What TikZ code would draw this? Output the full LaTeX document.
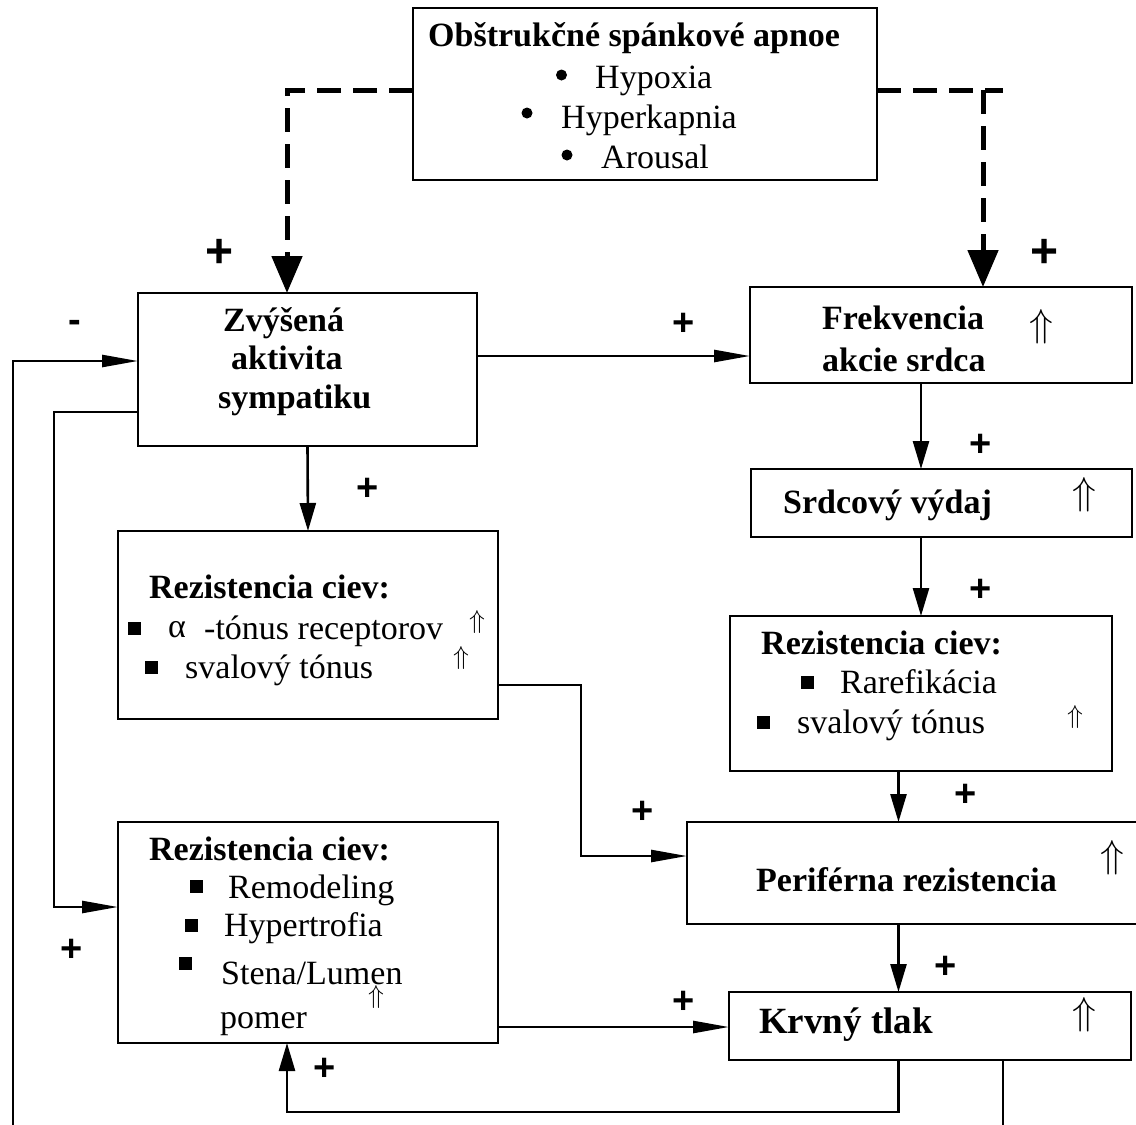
\documentclass[tikz,border=0pt]{standalone}
\usepackage{fix-cm}
\usepackage{fontspec}
\setmainfont{Liberation Serif}
\newfontfamily\plusfont{Liberation Sans}
\usetikzlibrary{arrows.meta}
\newcommand\fsz[1]{\fontsize{#1}{#1}\selectfont}
\newcommand\sqb[2]{\fill (#1-6.5,#2-6.5) rectangle ++(13,13);}
\begin{document}
\begin{tikzpicture}[x=1pt,y=-1pt,
  box/.style={draw=black, line width=1.8pt, inner sep=0pt, outer sep=0pt},
  tx/.style={inner sep=0pt, anchor=west, font=\fsz{34}, text height=23pt, text depth=0pt},
  tb/.style={tx, font=\fsz{34}\bfseries},
  pl/.style={inner sep=0pt, font=\plusfont\bfseries\fsz{38}},
  plbig/.style={inner sep=0pt, font=\plusfont\bfseries\fsz{48}},
  upb/.style={inner sep=0pt, font=\fsz{39}},
  ups/.style={inner sep=0pt, font=\fsz{26}},
  ln/.style={line width=2.6pt},
  varr/.style={ln, -{Triangle[length=28pt,width=16pt]}},
  harr/.style={ln, -{Triangle[length=36pt,width=12pt]}},
  dsh/.style={line width=5pt, dash pattern=on 24pt off 12pt},
  dtip/.style={-{Triangle[length=37pt,width=30pt]}}
]
\useasboundingbox (0,0) rectangle (1136,1125);
\clip (0,0) rectangle (1136,1125);

% boxes
\node[box, line width=2.6pt, minimum width=464pt, minimum height=172pt] (osa) at (645,94) {};
\node[box, minimum width=339pt, minimum height=153pt] (sym) at (307.5,369.5) {};
\node[box, minimum width=382pt, minimum height=96pt] (frek) at (941,335) {};
\node[box, minimum width=381pt, minimum height=68pt] (srd) at (941.5,503) {};
\node[box, minimum width=382pt, minimum height=155pt] (rezR) at (921,693.5) {};
\node[box, minimum width=380pt, minimum height=188pt] (rezA) at (308,625) {};
\node[box, minimum width=380pt, minimum height=221pt] (rezB) at (308,932.5) {};
\node[box, minimum width=458pt, minimum height=102pt] (per) at (916,873) {};
\node[box, minimum width=402pt, minimum height=68pt] (krv) at (930,1026) {};

% top box text
\node[tb] (osaT) at (428,35) {Obštrukčné spánkové apnoe};
\node[tx] (osa1) at (595,77) {Hypoxia};
\node[tx] (osa2) at (561,117) {Hyperkapnia};
\node[tx] (osa3) at (601,157) {Arousal};
\fill (561.5,75) circle (5.5pt);
\fill (527,113) circle (5.5pt);
\fill (567,155) circle (5.5pt);

% sympatikus
\node[tb] (sym1) at (223,320) {Zvýšená};
\node[tb] (sym2) at (231,358) {aktivita};
\node[tb] (sym3) at (218,397) {sympatiku};

% frekvencia
\node[tb] (fr1) at (822,318) {Frekvencia};
\node[tb] (fr2) at (822,360) {akcie srdca};
\node[upb] (frU) at (1041,327) {$\Uparrow$};

% srdcovy vydaj
\node[tb] (sv) at (783,502) {Srdcový výdaj};
\node[upb] (svU) at (1084,495) {$\Uparrow$};

% rezistencia right
\node[tb] (rr0) at (761,643) {Rezistencia ciev:};
\sqb{807}{682}
\node[tx] (rr1) at (840,682) {Rarefikácia};
\sqb{763}{722}
\node[tx] (rr2) at (797,722) {svalový tónus};
\node[ups] (rrU) at (1075,717) {$\Uparrow$};

% periferna
\node[tb] (pr) at (756,880) {Periférna rezistencia};
\node[upb] (prU) at (1112,858) {$\Uparrow$};

% krvny tlak
\node[tx, font=\fsz{37}\bfseries] (kt) at (759,1022) {Krvný tlak};
\node[upb] (ktU) at (1084,1015) {$\Uparrow$};

% rezistencia A
\node[tb] (ra0) at (149,587) {Rezistencia ciev:};
\sqb{134}{628}
\node[tx] (raA) at (168,626) {α};
\node[tx] (ra1) at (204,628) {-tónus receptorov};
\node[ups] (raU1) at (477,622) {$\Uparrow$};
\sqb{151}{667}
\node[tx] (ra2) at (185,667) {svalový tónus};
\node[ups] (raU2) at (461,658) {$\Uparrow$};

% rezistencia B
\node[tb] (rb0) at (149,849) {Rezistencia ciev:};
\sqb{196}{886}
\node[tx] (rb1) at (228,887) {Remodeling};
\sqb{191}{925}
\node[tx] (rb2) at (224,925) {Hypertrofia};
\sqb{185}{963}
\node[tx] (rb3) at (221,973) {Stena/Lumen};
\node[tx] (rb4) at (220,1017) {pomer};
\node[ups] (rbU) at (376,997) {$\Uparrow$};

% coordinates
\coordinate (dl) at (287,90);
\coordinate (dr) at (1003,90);
\coordinate (dj) at (983,90);
\coordinate (h1) at (0,356);
\coordinate (v1) at (921,0);
\coordinate (v2) at (898.5,0);
\coordinate (h2) at (0,685);
\coordinate (j1) at (581,856);
\coordinate (h3) at (0,1027);
\coordinate (j2) at (287,1112);
\coordinate (v3) at (1003,0);
\coordinate (bL) at (13,1130);
\coordinate (bR) at (1003,1130);
\coordinate (h4) at (0,361);
\coordinate (j3) at (54,412);
\coordinate (j4) at (54,907);

% connectors
\draw[dsh, dtip] (osa.west |- dl) -| (sym.north -| dl);
\draw[dsh] (osa.east |- dl) -- (dr);
\draw[dsh, dtip] (dj) -- (frek.north -| dj);
\draw[harr] (sym.east |- h1) -- (frek.west |- h1);
\draw[varr] (frek.south -| v1) -- (srd.north -| v1);
\draw[varr] (srd.south -| v1) -- (rezR.north -| v1);
\draw[varr] (rezR.south -| v2) -- (per.north -| v2);
\draw[varr] (per.south -| v2) -- (krv.north -| v2);
\draw[varr] (sym.south) -- (rezA.north);
\draw[harr] (rezA.east |- h2) -| (j1) -- (per.west |- j1);
\draw[harr] (rezB.east |- h3) -- (krv.west |- h3);
\draw[varr] (krv.south -| v2) |- (j2) -- (rezB.south -| j2);
\draw[ln] (krv.south -| v3) -- (bR);
\draw[harr] (bL) |- (sym.west |- h4);
\draw[harr] (sym.west |- j3) -- (j3) -- (j4) -- (rezB.west |- j4);

% signs
\node[plbig] (p1) at (220,253) {+};
\node[plbig] (p2) at (1045,253) {+};
\node[pl] (m1) at (75,326) {-};
\node[pl] (p3) at (684,324) {+};
\node[pl] (p4) at (981,445) {+};
\node[pl] (p5) at (981,590) {+};
\node[pl] (p6) at (966,795) {+};
\node[pl] (p7) at (368,489) {+};
\node[pl] (p8) at (643,812) {+};
\node[pl] (p9) at (946,967) {+};
\node[pl] (p10) at (684,1002) {+};
\node[pl] (p11) at (72,950) {+};
\node[pl] (p12) at (325,1069) {+};
\end{tikzpicture}
\end{document}
